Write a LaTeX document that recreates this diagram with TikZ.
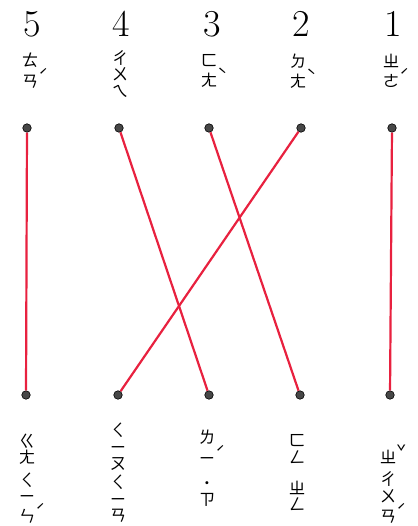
\documentclass[tikz,border=0pt]{standalone}
\usepackage{fontspec}
\usepackage{tikz}
\newfontfamily\zyfont{Noto Sans CJK TC}
\definecolor{linkred}{HTML}{E8213F}
\newcommand{\tn}[1]{\rlap{\raisebox{0.3em}{#1}}}

\begin{document}
\begin{tikzpicture}[x=1pt, y=-1pt,
	dot/.style={circle, fill=black!72, draw=black, line width=0.6pt, inner sep=0pt, minimum size=8.5pt},
	link/.style={linkred, line width=2.2pt},
	num/.style={font=\fontsize{38}{38}\selectfont, inner sep=0pt},
	word/.style={font=\zyfont\fontsize{16.5}{16.5}\selectfont, align=center, inner sep=0pt}]
	\useasboundingbox (0,0) rectangle (417,526);
	% numbers and top words
	\foreach \i/\x in {5/30, 4/119, 3/210, 2/299, 1/391} {\node[num] (n\i) at (\x+2,24) {\i};}
	\node[word] (w5) at (30,71) {ㄊ\\ㄢ\tn{ˊ}};
	\node[word] (w4) at (120,74) {ㄔ\\ㄨ\\ㄟ};
	\node[word] (w3) at (209,71) {ㄈ\\ㄤ\tn{ˋ}};
	\node[word] (w2) at (298,71) {ㄉ\\ㄤ\tn{ˋ}};
	\node[word] (w1) at (391,71) {ㄓ\\ㄜ\tn{ˊ}};
	% dots
	\foreach \i/\x in {5/27, 4/119, 3/209, 2/301, 1/392} {\node[dot] (t\i) at (\x,128) {};}
	\foreach \i/\x in {5/26, 4/118, 3/209, 2/300, 1/390} {\node[dot] (b\i) at (\x,395) {};}
	% matching lines
	\draw[link] (t5) -- (b5);
	\draw[link] (t4) -- (b3);
	\draw[link] (t3) -- (b2);
	\draw[link] (t2) -- (b4);
	\draw[link] (t1) -- (b1);
	% bottom words
	\node[word] (u5) at (27,449) {ㄍ\\ㄤ};
	\node[word] (v5) at (27,498) {ㄑ\\ㄧ\\ㄣ\tn{ˊ}};
	\node[word] (u4) at (118,447) {ㄑ\\ㄧ\\ㄡ};
	\node[word] (v4) at (118,499) {ㄑ\\ㄧ\\ㄢ};
	\node[word] (u3) at (207,447) {ㄌ\\ㄧ\tn{ˊ}};
	\node[word] (v3) at (207,494) {˙\\[-1pt]ㄗ};
	\node[word] (u2) at (297,449) {ㄈ\\ㄥ};
	\node[word] (v2) at (297,496) {ㄓ\\ㄥ};
	\node[word] (u1) at (388,454) {ㄓ\tn{ˇ}};
	\node[word] (v1) at (388,498) {ㄔ\\ㄨ\\ㄢ\tn{ˊ}};
\end{tikzpicture}
\end{document}
